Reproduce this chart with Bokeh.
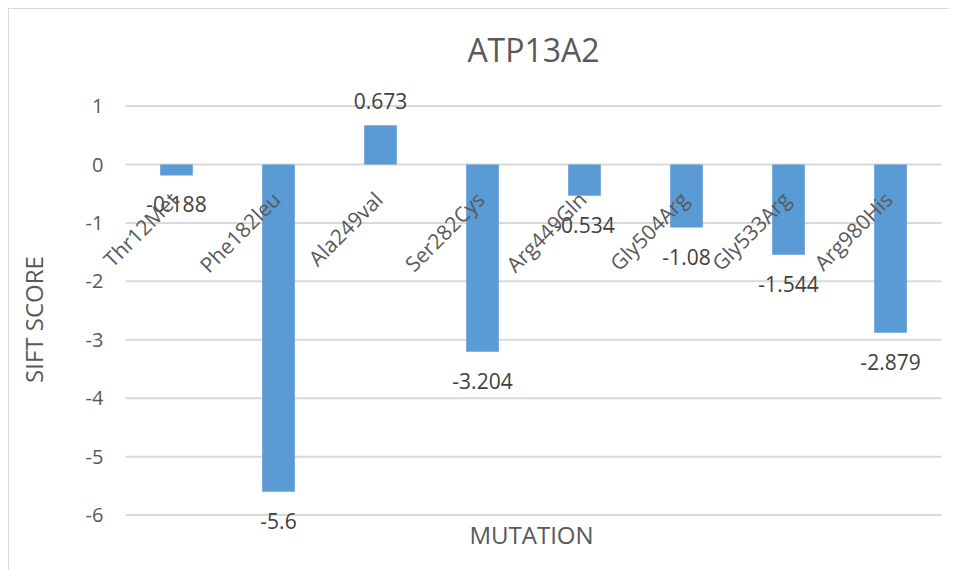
import math
from bokeh.plotting import figure
from bokeh.models import ColumnDataSource, Range1d, Label
from bokeh.embed import file_html
from bokeh.resources import INLINE

categories = ["Thr12Met", "Phe182leu", "Ala249val", "Ser282Cys",
              "Arg449Gln", "Gly504Arg", "Gly533Arg", "Arg980His"]
sift_scores = [-0.188, -5.6, 0.673, -3.204, -0.534, -1.08, -1.544, -2.879]
y_ticks = [-6, -5, -4, -3, -2, -1, 0, 1]

FONT = "Open Sans"
TEXT = "#595959"
n = len(categories)

# category slots: centre of slot i is i + 0.5
xpos = [i + 0.5 for i in range(n)]
src = ColumnDataSource(dict(x=xpos, cat=categories, val=sift_scores))

# the frame fills the whole canvas; the value area is x 0..n, y -6..1
p = figure(width=941, height=562, title=None,
           x_range=Range1d(-1.137, n + 0.088),
           y_range=Range1d(-6.966, 2.653),
           output_backend="svg", toolbar_location=None,
           min_border_left=0, min_border_right=0, min_border_top=0,
           min_border_bottom=0)
p.margin = (8, 0, 0, 8)
p.styles = {"border-left": "1px solid #D9D9D9", "border-top": "1px solid #D9D9D9"}
p.outline_line_color = None
p.axis.visible = False
p.grid.visible = False

# horizontal gridlines across the value area
p.segment(x0=0, x1=n, y0=y_ticks, y1=y_ticks, line_color="#D9D9D9", line_width=2)

p.vbar(x="x", top="val", bottom=0, width=0.32, source=src,
       fill_color="#5B9BD5", line_color=None)

for x, cat, v in zip(xpos, categories, sift_scores):
    # data label
    p.add_layout(Label(x=x, y=v, text=f"{v:g}",
                       y_offset=-29 if v < 0 else 24,
                       text_align="center", text_baseline="middle",
                       text_font=FONT, text_font_size="21px",
                       text_color="#404040"))
    # category label next to the zero line
    p.add_layout(Label(x=x, y=0, text=cat, angle=math.pi / 4,
                       x_offset=-2, y_offset=-31, text_align="right",
                       text_baseline="middle", text_font=FONT,
                       text_font_size="21px", text_color=TEXT))

# y tick labels
for t in y_ticks:
    p.add_layout(Label(x=0, y=t, text=str(t), x_offset=-22,
                       text_align="right", text_baseline="middle",
                       text_font=FONT, text_font_size="20px", text_color=TEXT))

# title and axis titles
p.add_layout(Label(x=n / 2, y=max(y_ticks), text="ATP13A2", y_offset=57,
                   text_align="center", text_baseline="middle",
                   text_font=FONT, text_font_size="32px", text_color=TEXT))
p.add_layout(Label(x=0, y=(min(y_ticks) + max(y_ticks)) / 2, text="SIFT SCORE",
                   angle=math.pi / 2, x_offset=-92, y_offset=-9,
                   text_align="center", text_baseline="middle",
                   text_font=FONT, text_font_size="24px", text_color=TEXT))
p.add_layout(Label(x=n / 2, y=min(y_ticks), text="MUTATION", y_offset=-19,
                   x_offset=-2, text_align="center", text_baseline="middle",
                   text_font=FONT, text_font_size="24px", text_color=TEXT))

open("out.html", "w").write(file_html(p, INLINE))
